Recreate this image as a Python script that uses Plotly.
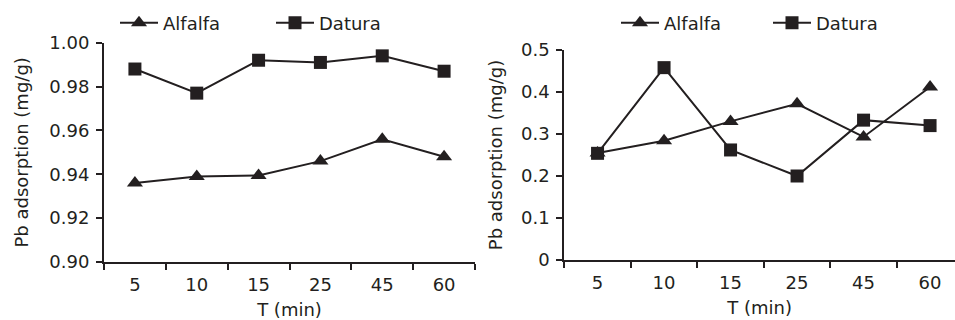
import plotly.graph_objects as go

# ---- data ----
times = ["5", "10", "15", "25", "45", "60"]
alfalfa_left = [0.936, 0.939, 0.9395, 0.946, 0.956, 0.948]
datura_left = [0.988, 0.977, 0.992, 0.991, 0.994, 0.987]
alfalfa_right = [0.255, 0.284, 0.330, 0.372, 0.293, 0.412]
datura_right = [0.254, 0.458, 0.262, 0.200, 0.333, 0.320]
left_yticks = [0.90, 0.92, 0.94, 0.96, 0.98, 1.00]
right_yticks = [0, 0.1, 0.2, 0.3, 0.4, 0.5]

INK = "#231f20"
FONT = "DejaVu Sans"
FS = 18

fig = go.Figure()

def add_pair(xa, ya, a_vals, d_vals, legend, show):
    fig.add_trace(go.Scatter(
        x=times, y=a_vals, name="Alfalfa", mode="lines+markers",
        xaxis=xa, yaxis=ya, legend=legend, showlegend=show,
        line=dict(color=INK, width=2),
        marker=dict(symbol="triangle-up", size=14, color=INK),
        cliponaxis=False))
    fig.add_trace(go.Scatter(
        x=times, y=d_vals, name="Datura", mode="lines+markers",
        xaxis=xa, yaxis=ya, legend=legend, showlegend=show,
        line=dict(color=INK, width=2),
        marker=dict(symbol="square", size=13, color=INK),
        cliponaxis=False))

add_pair("x", "y", alfalfa_left, datura_left, "legend", True)
add_pair("x2", "y2", alfalfa_right, datura_right, "legend2", True)

W, H = 955, 320
axis_common = dict(
    showline=True, linecolor=INK, linewidth=2,
    ticks="outside", ticklen=6, tickwidth=2, tickcolor=INK,
    showgrid=False, zeroline=False,
    tickfont=dict(family=FONT, size=FS, color=INK),
)
title_font = dict(family=FONT, size=FS, color=INK)

fig.update_layout(
    width=W, height=H,
    margin=dict(l=0, r=0, t=0, b=0, autoexpand=False),
    paper_bgcolor="white", plot_bgcolor="white",
    font=dict(family=FONT, size=FS, color=INK),
    xaxis=dict(domain=[104 / W, 475 / W], type="category",
               categoryorder="array", categoryarray=times,
               range=[-0.5, 5.5], tickson="boundaries",
               anchor="y", automargin=False, ticklabelstandoff=5,
               title=dict(text="T (min)", font=title_font, standoff=10),
               **axis_common),
    yaxis=dict(domain=[1 - 262 / H, 1 - 42.7 / H], range=[0.90, 1.00],
               tickvals=left_yticks, tickformat=".2f", anchor="x", automargin=False,
               title=dict(text="Pb adsorption (mg/g)", font=title_font, standoff=16),
               ticklabelstandoff=3,
               **axis_common),
    xaxis2=dict(domain=[564.3 / W, 1.0], type="category",
                categoryorder="array", categoryarray=times,
                range=[-0.5, 5.375], tickson="boundaries",
                anchor="y2", automargin=False, ticklabelstandoff=5,
                title=dict(text="T (min)", font=title_font, standoff=10),
                **axis_common),
    yaxis2=dict(domain=[1 - 260 / H, 1 - 50 / H], range=[0, 0.5],
                tickvals=right_yticks, anchor="x2", automargin=False,
                title=dict(text="Pb adsorption (mg/g)", font=title_font, standoff=14),
                ticklabelstandoff=3,
                **axis_common),
    legend=dict(orientation="h", x=115 / W, y=1 - 23 / H, xanchor="left", yanchor="middle",
                bgcolor="rgba(0,0,0,0)", font=dict(family=FONT, size=FS, color=INK),
                entrywidth=103, entrywidthmode="pixels", itemwidth=38),
    legend2=dict(orientation="h", x=616 / W, y=1 - 23 / H, xanchor="left", yanchor="middle",
                 bgcolor="rgba(0,0,0,0)", font=dict(family=FONT, size=FS, color=INK),
                 entrywidth=99, entrywidthmode="pixels", itemwidth=38),
)

fig.write_html("out.html")
